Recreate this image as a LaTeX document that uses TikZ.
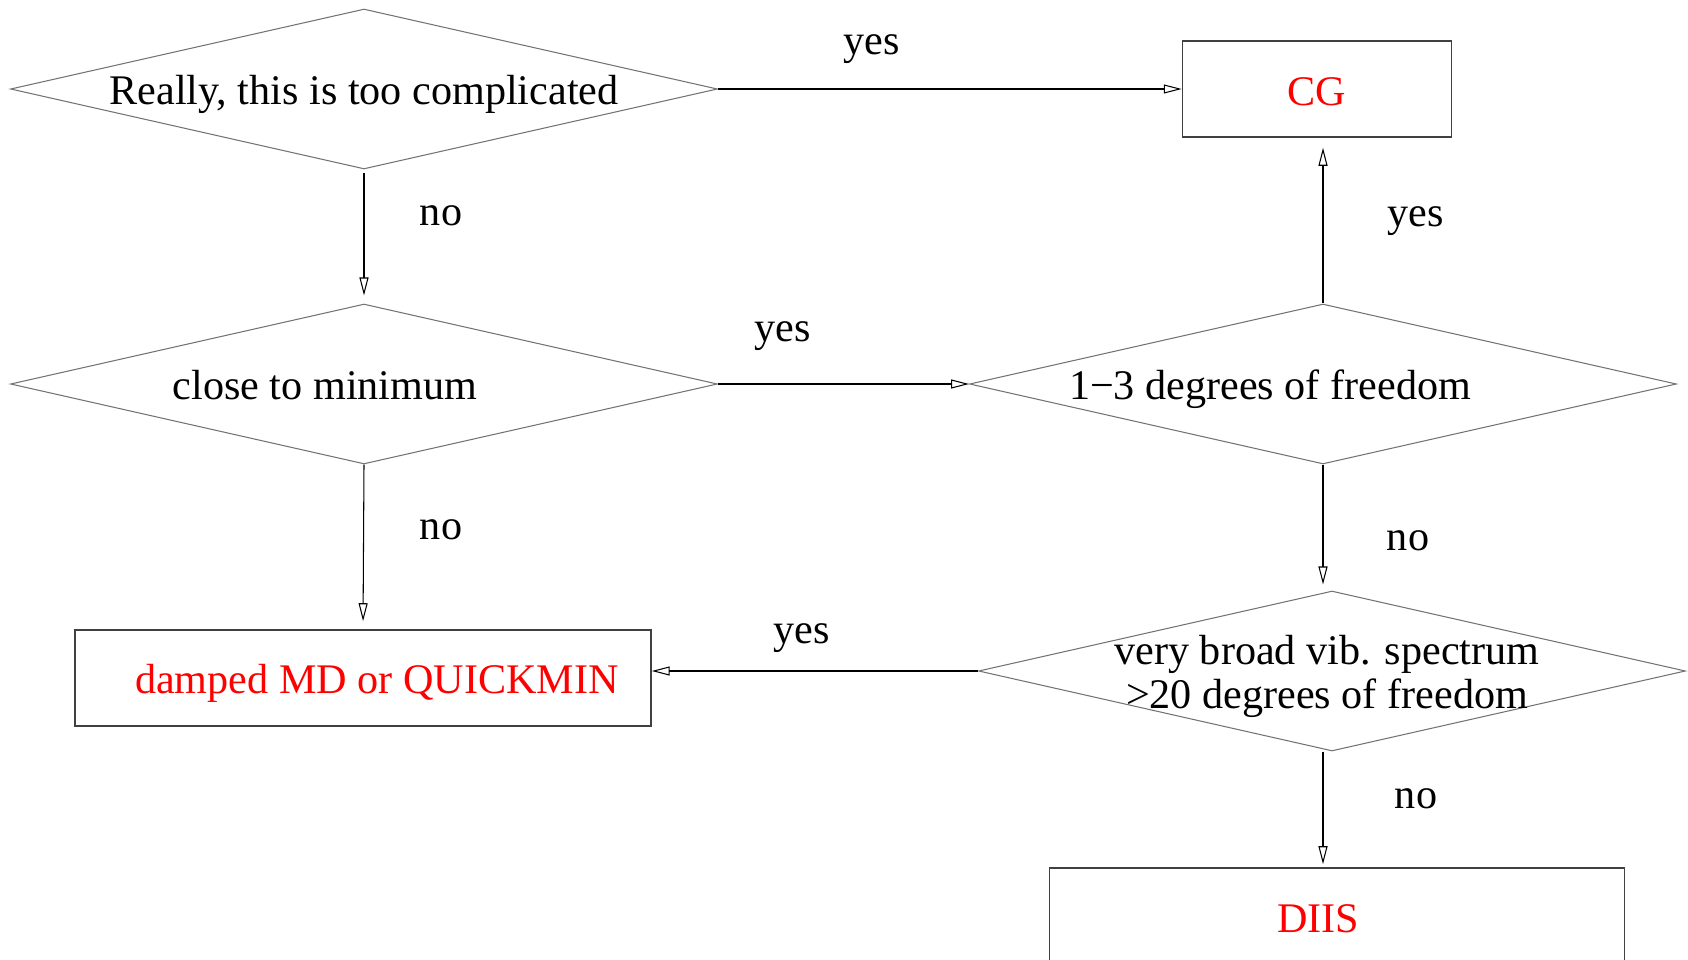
\documentclass[tikz,border=0pt]{standalone}
\usepackage{fontspec}
\setmainfont{Liberation Serif}
\usetikzlibrary{shapes.geometric,arrows.meta,positioning}
% text centred on a zero-width box, moved sideways by half of #2, down by #1
\newcommand{\offsettext}[3][0.1cm]{%
  \raisebox{-#1}[\height][\depth]{\makebox[0pt]{\hspace*{#2}#3}}}

\begin{document}
\begin{tikzpicture}[
  x=0.02cm, y=-0.02cm,
  font=\fontsize{24}{25}\selectfont,
  decision/.style={diamond,draw=black!55,line width=0.6pt,inner sep=0pt,
                   aspect=4.4,minimum width=14.14cm,minimum height=3.2cm},
  outbox/.style={draw=black!75,line width=0.9pt,minimum height=1.92cm,
                 text=red},
  arr/.style={-{Triangle[open,length=0.36cm,width=0.18cm]},line width=0.6pt},
  lbl/.style={anchor=base}
]
\useasboundingbox (0,0) rectangle (1688,960);

% questions
\node[decision] (toocomplex) at (364,89)
  {\offsettext{0pt}{Really, this is too complicated}};
\node[decision] (closemin) at (364,384)
  {\offsettext[0.02cm]{-1.56cm}{close to minimum}};
\node[decision] (fewdof) at (1323,384)
  {\offsettext{-2.12cm}{1−3 degrees of freedom}};
\node[decision] (broadvib) at (1332,671)
  {\offsettext[0.13cm]{-0.2cm}{\begin{tabular}{@{}c@{}}very broad vib. spectrum\\
   >20 degrees of freedom\end{tabular}}};

% algorithms
\node[outbox,minimum width=5.38cm] (cg) at (1317,89) {\offsettext[0.06cm]{0pt}{CG}};
\node[outbox,minimum width=11.52cm] (quickmin) at (363,678)
  {\offsettext{0.56cm}{damped MD or QUICKMIN}};
\node[outbox,minimum width=11.5cm] (diis) at (1337,916)
  {\offsettext[0.06cm]{-0.76cm}{DIIS}};

% arrows
\draw[arr] (toocomplex.east) -- (cg.west);
\draw[arr,shorten <=0.06cm,shorten >=0.16cm] (toocomplex.south) -- (closemin.north);
\draw[arr] (closemin.east) -- (fewdof.west);
\draw[arr,shorten >=0.2cm] (fewdof.north) -- (fewdof.north |- cg.south);
\draw[arr,shorten >=0.12cm] (fewdof.south) -- (fewdof.south |- broadvib.north);
\draw[arr,shorten >=0.16cm] (closemin.south) -- (quickmin.north);
\draw[arr] (broadvib.west) -- (broadvib.west -| quickmin.east);
\draw[arr,shorten >=0.06cm] (broadvib.south -| fewdof.south)
  -- (diis.north -| fewdof.south);

% answers
\node[lbl] (yes1) at (872,54) {yes};
\node[lbl] (no1) at (441,225) {no};
\node[lbl] (yes2) at (783,341) {yes};
\node[lbl] (yes3) at (1416,226) {yes};
\node[lbl] (no2) at (441,539) {no};
\node[lbl] (no3) at (1408,550) {no};
\node[lbl] (yes4) at (802,643) {yes};
\node[lbl] (no4) at (1416,808) {no};
\end{tikzpicture}
\end{document}
